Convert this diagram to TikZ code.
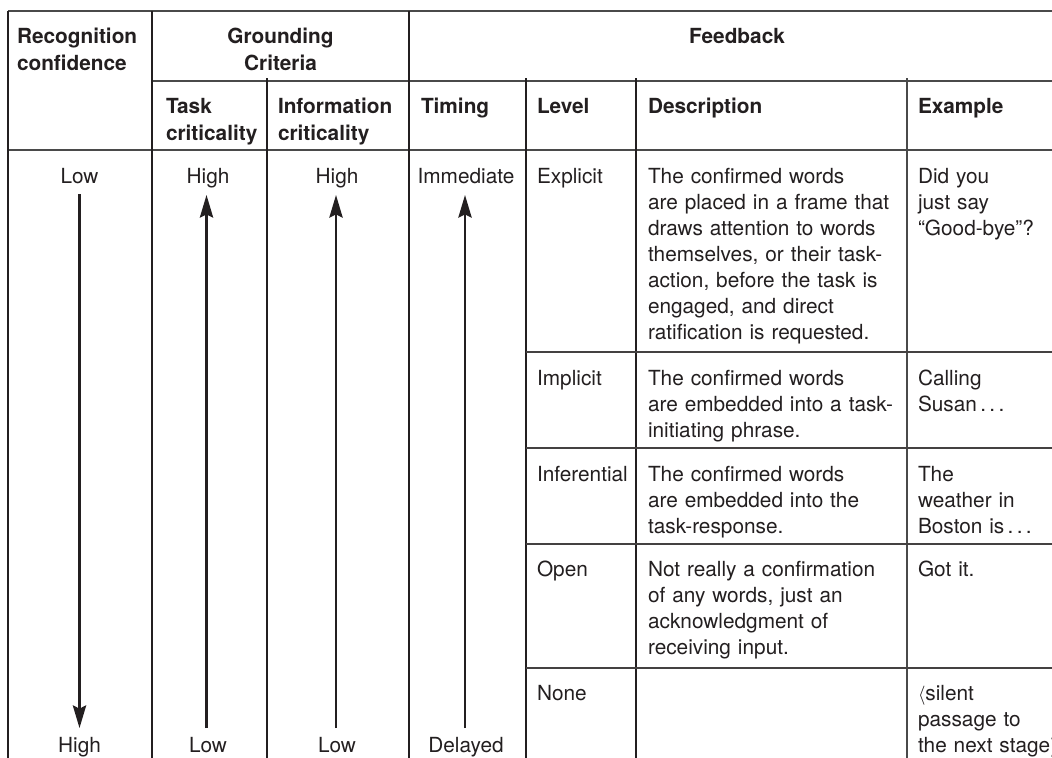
\documentclass[tikz,border=0pt]{standalone}
\usepackage{fontspec}
\setmainfont{TeX Gyre Heros}
\usetikzlibrary{arrows.meta}
\definecolor{ink}{HTML}{231F20}
\definecolor{rulegray}{HTML}{4A4A4A}
\newcommand{\dotsp}{\kern2.5pt.\kern2.5pt.\kern2.5pt.}
\begin{document}
\begin{tikzpicture}[x=0.75pt,y=-0.75pt,
  every node/.style={inner sep=0pt, outer sep=0pt, text=ink,
    font=\fontsize{15.6pt}{19.5pt}\selectfont},
  hdtext/.style={font=\fontsize{15.6pt}{20.25pt}\selectfont\bfseries},
  celltext/.style={anchor=base west, align=left, text width=220pt},
  midtext/.style={anchor=base},
  hrule/.style={draw=rulegray, line width=1.5pt},
  rowrule/.style={draw=ink!85, line width=1pt},
  vrule/.style={draw=ink, line width=0.9pt},
  axisarrow/.style={draw=ink, line width=1.6pt,
    -{Stealth[length=17pt,width=10pt,inset=2.5pt]}},
]
\useasboundingbox (0,0) rectangle (1052,757);
\fill[white] (0,0) rectangle (1052,757);
\clip (0,0) rectangle (1052,757);

% ---- table rules ----
\draw[hrule] (8,11) -- (1075,11);
\draw[hrule] (152,81) -- (1075,81);
\draw[hrule] (8,150) -- (1075,150);
\draw[vrule] (8,11) -- (8,765);
\draw[vrule] (152,11) -- (152,765);
\draw[vrule] (409,11) -- (409,765);
\draw[vrule] (267,78) -- (267,765);
\draw[vrule] (526,78) -- (526,765);
\draw[vrule] (636,78) -- (636,765);
\draw[hrule, line width=1.3pt] (907,78) -- (907,765);
\foreach \yy in {352,448,544,668}
  \draw[rowrule] (526,\yy) -- (1075,\yy);

% ---- header ----
\node[hdtext, celltext] (hRec) at (17,43) {Recognition\\confidence};
\node[hdtext, midtext, align=center, text width=200pt] (hGround) at (280.5,43) {Grounding\\Criteria};
\node[hdtext, midtext] (hFeed) at (737,43) {Feedback};
\node[hdtext, celltext] (hTask) at (166,113) {Task\\criticality};
\node[hdtext, celltext] (hInfo) at (278,113) {Information\\criticality};
\node[hdtext, celltext] (hTime) at (421,113) {Timing};
\node[hdtext, celltext] (hLevel) at (537,113) {Level};
\node[hdtext, celltext] (hDesc) at (648,113) {Description};
\node[hdtext, celltext] (hEx) at (918,113) {Example};

% ---- scale end labels ----
\node[midtext] (recLow) at (79.5,183.5) {Low};
\node[midtext] (recHigh) at (79.5,752) {High};
\node[midtext] (taskHigh) at (208,183.5) {High};
\node[midtext] (taskLow) at (208,752) {Low};
\node[midtext] (infoHigh) at (337,183.5) {High};
\node[midtext] (infoLow) at (337,752) {Low};
\node[midtext] (timeImm) at (466,183.5) {Immediate};
\node[midtext] (timeDel) at (466,752) {Delayed};

% ---- scale arrows ----
\coordinate (recA) at (79.5,194);
\coordinate (recB) at (79.5,728);
\coordinate (taskA) at (206.5,728);
\coordinate (taskB) at (206.5,195);
\coordinate (infoA) at (336,728);
\coordinate (infoB) at (336,195);
\coordinate (timeA) at (465,728);
\coordinate (timeB) at (465,195);
\draw[axisarrow] (recA) -- (recB);
\draw[axisarrow] (taskA) -- (taskB);
\draw[axisarrow] (infoA) -- (infoB);
\draw[axisarrow] (timeA) -- (timeB);

% ---- feedback levels ----
\node[celltext] (lvExp) at (537,183.5) {Explicit};
\node[celltext] (lvImp) at (537,385) {Implicit};
\node[celltext] (lvInf) at (537,481) {Inferential};
\node[celltext] (lvOpen) at (537,576) {Open};
\node[celltext] (lvNone) at (537,700) {None};

\node[celltext] (dsExp) at (648,183.5) {The confirmed words\\are placed in a frame that\\draws attention to words\\themselves, or their task-\\action, before the task is\\engaged, and direct\\ratification is requested.};
\node[celltext] (dsImp) at (648,385) {The confirmed words\\are embedded into a task-\\initiating phrase.};
\node[celltext] (dsInf) at (648,481) {The confirmed words\\are embedded into the\\task-response.};
\node[celltext] (dsOpen) at (648,576) {Not really a confirmation\\of any words, just an\\acknowledgment of\\receiving input.};

\node[celltext] (exExp) at (918,183.5) {Did you\\just say\\``Good-bye''?};
\node[celltext] (exImp) at (918,385) {Calling\\Susan\dotsp};
\node[celltext] (exInf) at (918,481) {The\\weather in\\Boston is\dotsp};
\node[celltext] (exOpen) at (918,576) {Got it.};
\node[celltext] (exNone) at (918,700) {$\langle$silent\\passage to\\the next stage$\rangle$};
\end{tikzpicture}
\end{document}
